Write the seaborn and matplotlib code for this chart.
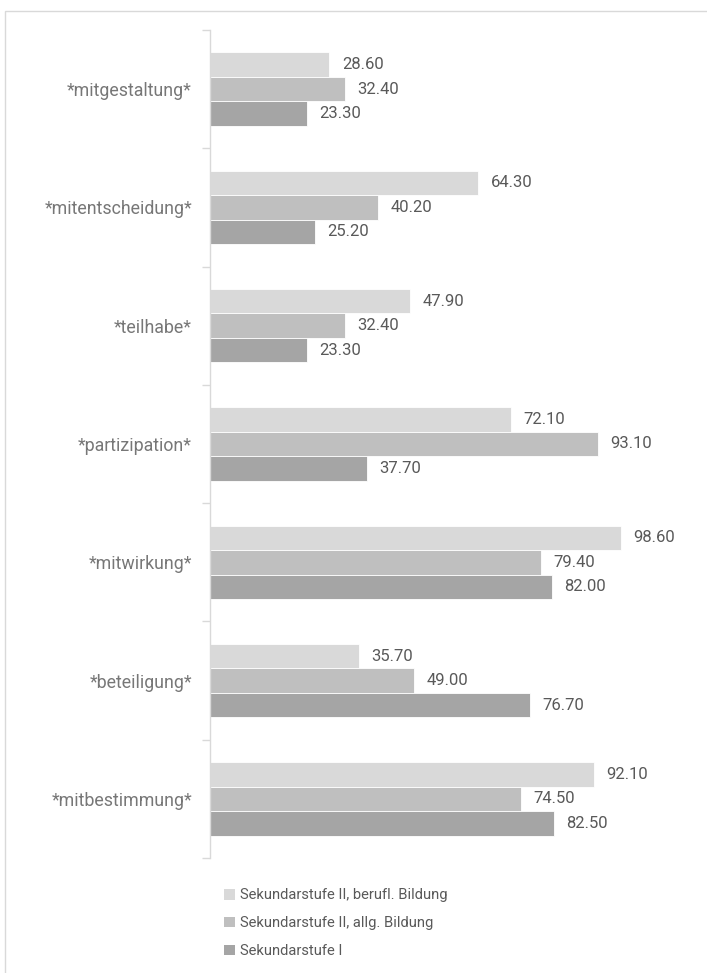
import matplotlib
matplotlib.use("Agg")
import matplotlib.pyplot as plt
from matplotlib.patches import Rectangle, Patch
import seaborn as sns
import pandas as pd

categories = ["*mitgestaltung*", "*mitentscheidung*", "*teilhabe*", "*partizipation*",
              "*mitwirkung*", "*beteiligung*", "*mitbestimmung*"]
series = ["Sekundarstufe II, berufl. Bildung", "Sekundarstufe II, allg. Bildung", "Sekundarstufe I"]
berufl = [28.6, 64.3, 47.9, 72.1, 98.6, 35.7, 92.1]
allg = [32.4, 40.2, 32.4, 93.1, 79.4, 49.0, 74.5]
sek1 = [23.3, 25.2, 23.3, 37.7, 82.0, 76.7, 82.5]
colors = ["#d9d9d9", "#bfbfbf", "#a5a5a5"]

rows = []
for s, vals in zip(series, [berufl, allg, sek1]):
    for c, v in zip(categories, vals):
        rows.append({"Kategorie": c, "Wert": v, "Gruppe": s})
df = pd.DataFrame(rows)

sns.set_theme(style="white")
plt.rcParams["font.family"] = ["Roboto", "DejaVu Sans"]

fig = plt.figure(figsize=(7.07, 9.73), dpi=100)
ax = fig.add_axes([210 / 707, 1 - 858 / 973, 417 / 707, (858 - 30) / 973])

sns.barplot(data=df, y="Kategorie", x="Wert", hue="Gruppe", order=categories,
            hue_order=series, palette=colors, saturation=1, width=0.62,
            orient="h", edgecolor="white", linewidth=0.6, ax=ax, legend=False)

value_color = "#595959"
label_color = "#777777"
for container in ax.containers:
    ax.bar_label(container, fmt="%.2f", padding=9, fontsize=12, color=value_color)

ax.set_xlim(0, 100)
ax.set_ylim(len(categories) - 0.5, -0.5)
ax.set_xlabel("")
ax.set_ylabel("")
ax.set_xticks([])
for side in ["top", "right", "bottom"]:
    ax.spines[side].set_visible(False)
ax.spines["left"].set_color("#d9d9d9")
ax.spines["left"].set_linewidth(1)

ax.set_yticks(range(len(categories)))
ax.set_yticklabels(categories, fontsize=12.8, color=label_color)
ax.tick_params(axis="y", which="major", length=0, pad=13)
ax.set_yticks([i - 0.5 for i in range(len(categories) + 1)], minor=True)
ax.tick_params(axis="y", which="minor", length=6, color="#d9d9d9", width=1, left=True)

handles = [Patch(facecolor=c, edgecolor="none") for c in colors]
fig.legend(handles, series, loc="upper left", bbox_to_anchor=(211 / 707, 1 - 875 / 973),
           frameon=False, fontsize=10.6, handlelength=0.75, handleheight=0.75,
           handletextpad=0.35, labelspacing=0.95, labelcolor=value_color)

fig.patches.append(Rectangle((5 / 707, -0.1), 1.1, 1 - 11 / 973 + 0.1,
                             transform=fig.transFigure, fill=False,
                             edgecolor="#d9d9d9", linewidth=1))

fig.savefig("out.png", dpi=100, facecolor="white")
